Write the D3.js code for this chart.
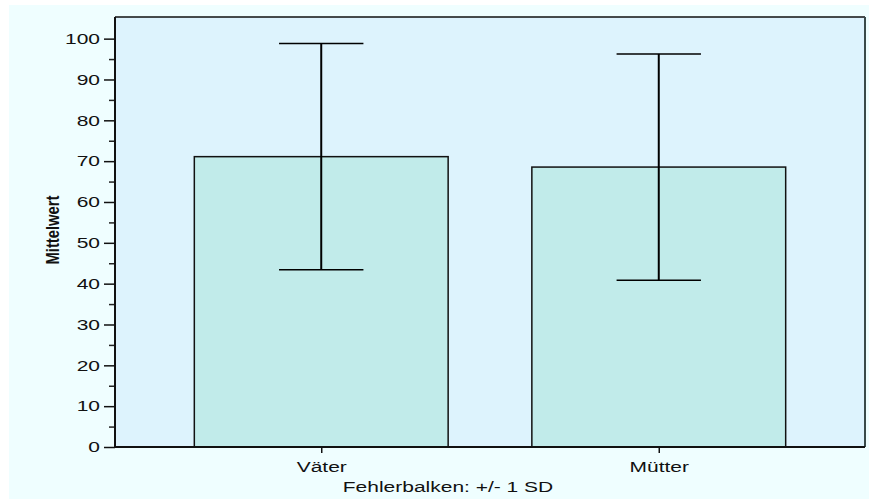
<!DOCTYPE html>
<html>
<head>
<meta charset="utf-8">
<script src="https://cdn.jsdelivr.net/npm/d3@7"></script>
<style>
  html, body { margin: 0; padding: 0; background: #ffffff; }
  svg { display: block; }
  text { font-family: "Liberation Sans", Arial, Helvetica, sans-serif; }
</style>
</head>
<body>
<svg id="chart" width="869" height="499"></svg>
<script>
// Mean and standard deviation per group
const categories = ["Väter", "Mütter"];
const means = [71.1, 68.55];
const sds = [27.7, 27.7];
const yTicks = [0, 10, 20, 30, 40, 50, 60, 70, 80, 90, 100];
const yMinorTicks = [5, 15, 25, 35, 45, 55, 65, 75, 85, 95];
const yLabel = "Mittelwert";
const footnote = "Fehlerbalken: +/- 1 SD";

const W = 869, H = 499;
const plot = { left: 115, top: 17, right: 865, bottom: 447 };
const WIDE = 1.4;   // horizontal stretch of the label face

const svg = d3.select("#chart");

// outer panel
svg.append("rect")
  .attr("x", 9).attr("y", 5)
  .attr("width", W - 9).attr("height", H - 5)
  .attr("fill", "#effeff");

// plot panel
svg.append("rect")
  .attr("x", plot.left).attr("y", plot.top)
  .attr("width", plot.right - plot.left).attr("height", plot.bottom - plot.top)
  .attr("fill", "#ddf3fd");

const x = d3.scalePoint()
  .domain(categories)
  .range([plot.left, plot.right])
  .padding(0.611);
const step = x.step();
const barW = step * 0.752;
const capW = step * 0.25;

const y = d3.scaleLinear()
  .domain([0, 105.3])
  .range([plot.bottom, plot.top]);

const data = categories.map((c, i) => ({ c, m: means[i], sd: sds[i] }));

// bars
svg.append("g").selectAll("rect")
  .data(data).join("rect")
  .attr("x", d => x(d.c) - barW / 2)
  .attr("y", d => y(d.m))
  .attr("width", barW)
  .attr("height", d => y(0) - y(d.m))
  .attr("fill", "#c1ebea")
  .attr("stroke", "#111")
  .attr("stroke-width", 1.5);

// error bars (+/- 1 SD)
const eb = svg.append("g").attr("stroke", "#000").attr("stroke-width", 2);
eb.selectAll("line.v").data(data).join("line")
  .attr("class", "v")
  .attr("x1", d => x(d.c)).attr("x2", d => x(d.c))
  .attr("y1", d => y(d.m + d.sd)).attr("y2", d => y(d.m - d.sd));
eb.selectAll("line.top").data(data).join("line")
  .attr("class", "top")
  .attr("x1", d => x(d.c) - capW / 2).attr("x2", d => x(d.c) + capW / 2)
  .attr("y1", d => y(d.m + d.sd)).attr("y2", d => y(d.m + d.sd))
  .attr("stroke-width", 1.5);
eb.selectAll("line.bot").data(data).join("line")
  .attr("class", "bot")
  .attr("x1", d => x(d.c) - capW / 2).attr("x2", d => x(d.c) + capW / 2)
  .attr("y1", d => y(d.m - d.sd)).attr("y2", d => y(d.m - d.sd))
  .attr("stroke-width", 1.5);

// panel frame: top and right edges
svg.append("line")
  .attr("x1", plot.left).attr("x2", plot.right)
  .attr("y1", plot.top).attr("y2", plot.top)
  .attr("stroke", "#111").attr("stroke-width", 1.5);
svg.append("line")
  .attr("x1", plot.right).attr("x2", plot.right)
  .attr("y1", plot.top).attr("y2", plot.bottom)
  .attr("stroke", "#3a4a4a").attr("stroke-width", 2);

// y axis: minor ticks then labelled major ticks
svg.append("g")
  .attr("transform", `translate(${plot.left},0)`)
  .call(d3.axisLeft(y).tickValues(yMinorTicks).tickSize(6).tickFormat(""))
  .call(g => g.select(".domain").remove())
  .call(g => g.selectAll("line").attr("stroke", "#222").attr("stroke-width", 1.5));

const yAxis = svg.append("g")
  .attr("transform", `translate(${plot.left},0)`)
  .call(d3.axisLeft(y).tickValues(yTicks).tickSize(11).tickSizeOuter(0).tickPadding(3).tickFormat(d3.format("d")));
yAxis.select(".domain")
  .attr("d", `M0,${plot.top}V${plot.bottom}`)
  .attr("stroke", "#111").attr("stroke-width", 2);
yAxis.selectAll("line").attr("stroke", "#111").attr("stroke-width", 1.5);
yAxis.selectAll("text")
  .attr("font-size", 15)
  .attr("fill", "#111")
  .attr("x", -15 / WIDE)
  .attr("transform", `scale(${WIDE},1)`);

// x axis
const xAxis = svg.append("g")
  .attr("transform", `translate(0,${plot.bottom})`)
  .call(d3.axisBottom(x).tickSize(6).tickSizeOuter(0).tickPadding(8));
xAxis.select(".domain")
  .attr("d", `M${plot.left},0H${plot.right}`)
  .attr("stroke", "#111").attr("stroke-width", 2);
xAxis.selectAll("line").attr("stroke", "#111").attr("stroke-width", 1.5);
xAxis.selectAll("text")
  .attr("font-size", 15)
  .attr("fill", "#111")
  .attr("transform", `scale(${WIDE},1)`);

// y axis title
svg.append("text")
  .attr("transform", "translate(59,230) rotate(-90) scale(0.78,1)")
  .attr("text-anchor", "middle")
  .attr("font-size", 19)
  .attr("font-weight", "bold")
  .attr("fill", "#111")
  .text(yLabel);

// footnote
svg.append("text")
  .attr("transform", `translate(448,492) scale(${WIDE},1)`)
  .attr("text-anchor", "middle")
  .attr("font-size", 15)
  .attr("fill", "#111")
  .text(footnote);
</script>
</body>
</html>
